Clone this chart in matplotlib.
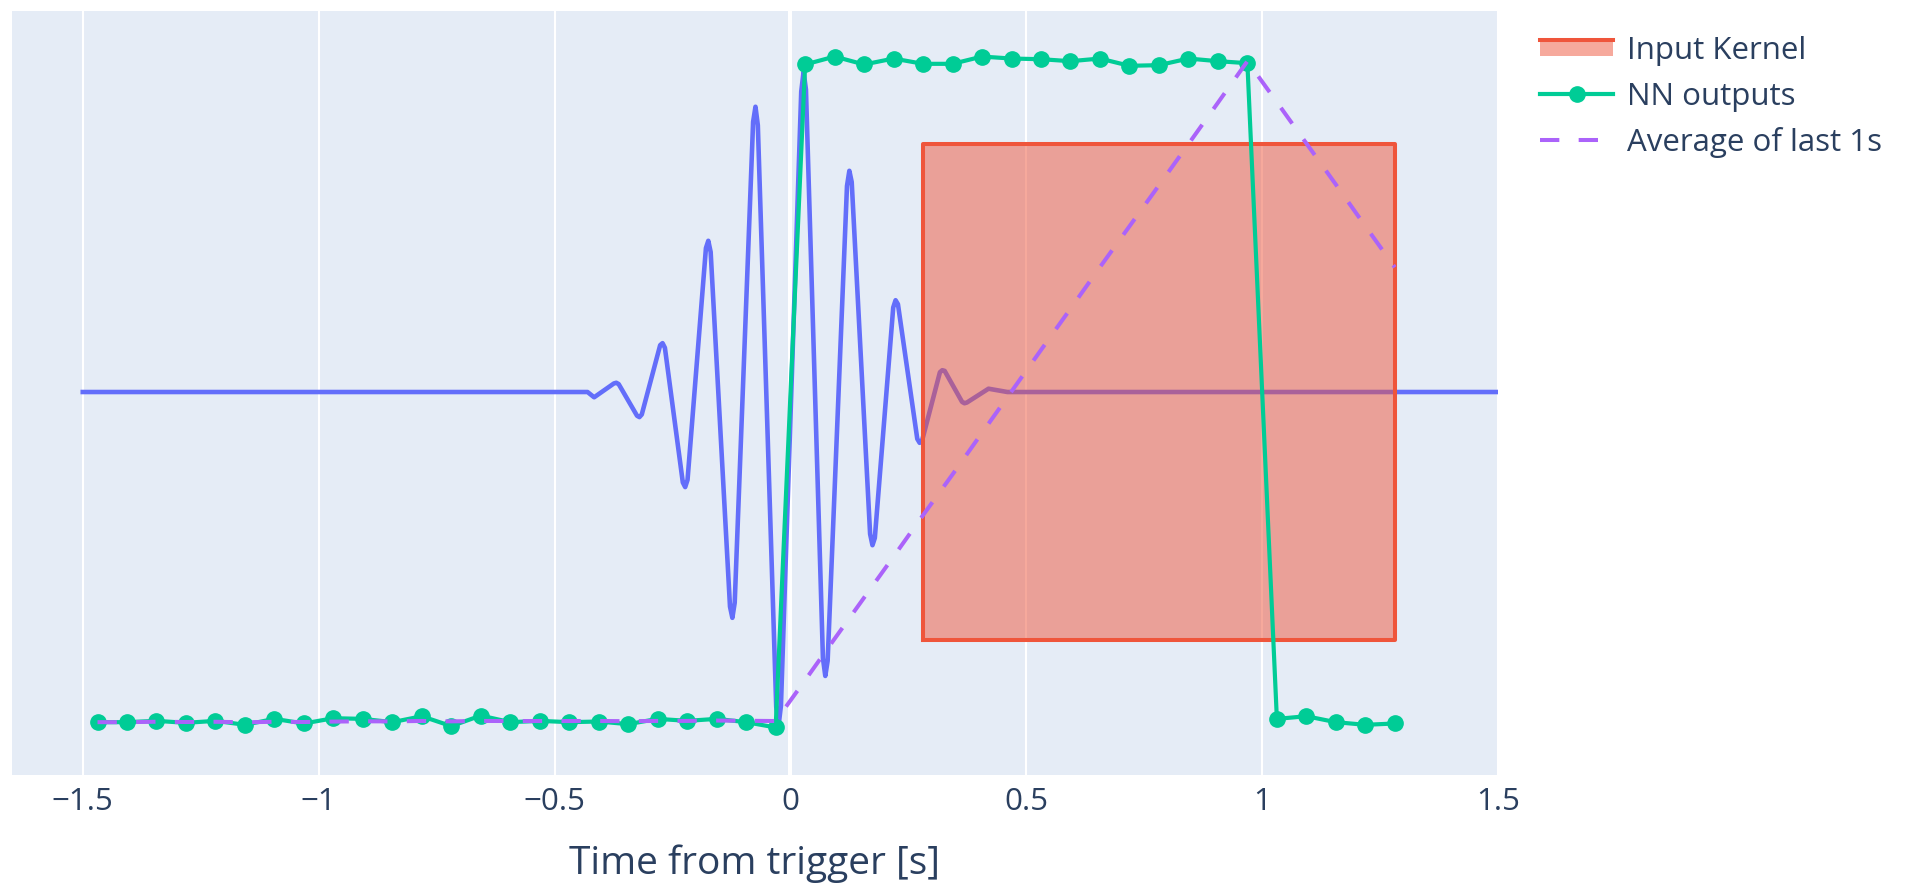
import numpy as np
import pandas as pd
import matplotlib
matplotlib.use('Agg')
import matplotlib.pyplot as plt
from matplotlib.legend_handler import HandlerBase
from matplotlib.patches import Rectangle
from matplotlib.lines import Line2D

plt.rcParams['font.family'] = ['Open Sans', 'DejaVu Sans']

# strain-like waveform (extrema and tip shoulders)
wave_t = [-1.5, -0.43, -0.416, -0.374, -0.369, -0.364, -0.325, -0.320, -0.315,
          -0.276, -0.271, -0.266, -0.228, -0.223, -0.218, -0.179, -0.174, -0.169,
          -0.128, -0.123, -0.118, -0.079, -0.074, -0.069, -0.030, -0.025, -0.020,
          0.023, 0.028, 0.033, 0.069, 0.074, 0.079, 0.120, 0.125, 0.130,
          0.169, 0.174, 0.179, 0.218, 0.223, 0.228, 0.269, 0.274, 0.279,
          0.317, 0.322, 0.327, 0.364, 0.369, 0.374, 0.420, 0.46, 1.5]
wave_y = [0.5, 0.5, 0.492, 0.513, 0.514, 0.512, 0.464, 0.462, 0.466,
          0.571, 0.574, 0.567, 0.363, 0.356, 0.367, 0.718, 0.729, 0.712,
          0.175, 0.158, 0.181, 0.909, 0.932, 0.904, 0.023, -0.005, 0.025,
          0.955, 0.985, 0.958, 0.097, 0.070, 0.093, 0.812, 0.835, 0.818,
          0.285, 0.268, 0.279, 0.628, 0.639, 0.633, 0.429, 0.423, 0.426,
          0.530, 0.533, 0.532, 0.485, 0.483, 0.484, 0.505, 0.5, 0.5]

# input kernel window
kernel_t = [0.28125, 1.28125]
kernel_y = [0.125, 0.875]

# NN outputs, one every 1/16 s
nn_t = np.arange(-1.46875, 1.29, 0.0625)
nn_out = [0.000, 0.000, 0.002, -0.001, 0.002, -0.004, 0.005, -0.002, 0.006, 0.005,
          0.000, 0.009, -0.006, 0.010, 0.000, 0.002, 0.000, 0.001, -0.003, 0.005,
          0.002, 0.005, 0.000, -0.008,
          0.996, 1.008, 0.996, 1.005, 0.997, 0.997, 1.008, 1.005, 1.004, 1.001,
          1.005, 0.994, 0.995, 1.005, 1.001, 0.998,
          0.005, 0.009, 0.000, -0.004, -0.002]

# average over the last 1 s (16 outputs)
nn_avg = pd.Series(nn_out).rolling(16, min_periods=1).mean().values

BLUE = '#636efa'
RED = '#EF553B'
GREEN = '#00cc96'
PURPLE = '#ab63fa'
TXT = '#2a3f5f'


class KernelHandler(HandlerBase):
    # plotly-style legend sample: filled box with the line on top
    def create_artists(self, legend, orig_handle, xdescent, ydescent, width, height, fontsize, trans):
        h = height * 0.7
        y0 = -ydescent + (height - h) / 2
        r = Rectangle((-xdescent, y0), width, h, facecolor=RED, alpha=0.5,
                      edgecolor='none', transform=trans)
        l = Line2D([-xdescent, -xdescent + width], [y0 + h, y0 + h], color=RED, lw=2.9,
                   transform=trans)
        return [r, l]


fig = plt.figure(figsize=(19.06, 8.84), dpi=100)
ax = fig.add_axes([12/1906, 1-775/884, (1498-12)/1906, (775-11)/884])
ax.set_facecolor('#E5ECF6')

ax.plot(wave_t, wave_y, color=BLUE, lw=3.3, zorder=2)
kx = [kernel_t[0], kernel_t[1], kernel_t[1], kernel_t[0], kernel_t[0]]
ky = [kernel_y[0], kernel_y[0], kernel_y[1], kernel_y[1], kernel_y[0]]
ax.fill(kx, ky, facecolor=RED, alpha=0.5, edgecolor='none', zorder=3)
ax.plot(kx, ky, color=RED, lw=2.9, zorder=3)
ax.plot(nn_t, nn_out, color=GREEN, lw=3, marker='o', ms=11, zorder=4)
ax.plot(nn_t, nn_avg, color=PURPLE, lw=2.9, dashes=(4.8, 4.8), zorder=5)

ax.set_xlim(-1.65, 1.5)
ax.set_ylim(-0.080, 1.077)
ax.set_xticks([-1.5, -1, -0.5, 0, 0.5, 1, 1.5])
ax.set_xticklabels(['\u22121.5', '\u22121', '\u22120.5', '0', '0.5', '1', '1.5'])
ax.set_yticks([])
ax.grid(axis='x', color='white', lw=1.5, zorder=0)
ax.axvline(0, color='white', lw=2.9, zorder=1)
ax.set_axisbelow(True)
ax.tick_params(axis='x', length=0, pad=9, labelsize=22.5, labelcolor=TXT)
for s in ax.spines.values():
    s.set_visible(False)
ax.set_xlabel('Time from trigger [s]', fontsize=28, color=TXT, labelpad=19.5)

handles = [Rectangle((0, 0), 1, 1),
           Line2D([], [], color=GREEN, lw=3, marker='o', ms=11),
           Line2D([], [], color=PURPLE, lw=2.9, dashes=(4.8, 4.8))]
labels = ['Input Kernel', 'NN outputs', 'Average of last 1s']
fig.legend(handles, labels, loc='upper left', bbox_to_anchor=(1540/1906, 1-36/884),
           frameon=False, fontsize=22.5, labelcolor=TXT, handlelength=2.35,
           handletextpad=0.45, labelspacing=0.5, borderpad=0, borderaxespad=0,
           handler_map={Rectangle: KernelHandler()})

fig.savefig('out.png', dpi=100)
